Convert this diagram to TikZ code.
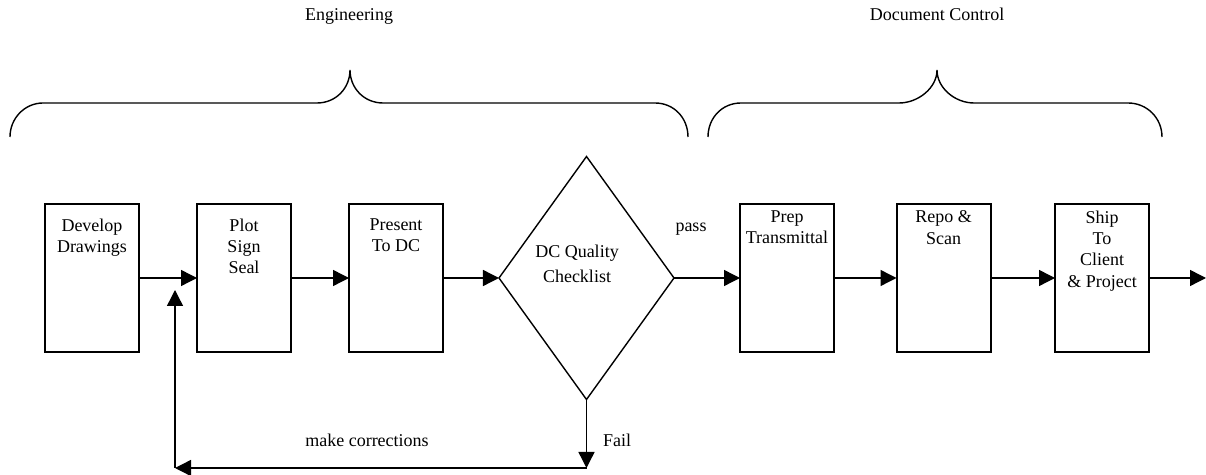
\documentclass[tikz,border=0pt]{standalone}
\usepackage{fontspec}
\setmainfont{Liberation Serif}
\usetikzlibrary{positioning,shapes.geometric,arrows.meta}
\begin{document}
\begin{tikzpicture}[x=0.5pt,y=-0.5pt,font=\fontsize{9}{10.65}\selectfont]
  \useasboundingbox (0,0) rectangle (1206,475);
  \begin{scope}[every node/.style={rectangle,draw,line width=1pt,minimum width=47pt,minimum height=74pt,inner sep=0pt,outer sep=0pt}]
    \node (dev) at (92,278) {};
    \node (plot) at (244,278) {};
    \node (pres) at (396,278) {};
    \node (prep) at (787,278) {};
    \node (repo) at (943.5,278) {};
    \node (ship) at (1102,278) {};
  \end{scope}
  \node[diamond,draw,line width=0.7pt,minimum width=87.5pt,minimum height=121.5pt,inner sep=0pt,outer sep=0pt] (qual) at (586.5,278) {};
  \begin{scope}[every node/.style={align=center,inner sep=0pt,outer sep=0pt}]
    \node[below=7.4pt of dev.north] (devtxt) {Develop\\Drawings};
    \node[below=7.4pt of plot.north] (plottxt) {Plot\\Sign\\Seal};
    \node[below=7.4pt of pres.north] (prestxt) {Present\\To DC};
    \node[below=3.4pt of prep.north] (preptxt) {Prep\\Transmittal};
    \node[below=3.4pt of repo.north] (repotxt) {Repo \&\\Scan};
    \node[below=3.4pt of ship.north] (shiptxt) {Ship\\To\\Client\\\& Project};
    \node[anchor=north,font=\fontsize{9}{12.5}\selectfont] (qualtxt) at ([shift={(-9.5,-33)}]qual.center) {DC Quality\\Checklist};
    \node[anchor=base] (pass) at (691,232) {pass};
    \node[anchor=base] (fix) at (367,447) {make corrections};
    \node[anchor=base west] (fail) at (603,447) {Fail};
    \node[anchor=base] (eng) at (349,21) {Engineering};
    \node[anchor=base] (dc) at (937,21) {Document Control};
  \end{scope}
  \coordinate (exit) at (1206,278);
  \coordinate (failc) at (qual.south |- 0,468);
  \coordinate (retc) at (175,468);
  \coordinate (rettip) at (175,290);
  \begin{scope}[every edge/.style={draw=black,line width=0.7pt,-{Triangle[length=8pt,width=8pt]}}]
    \path (dev) edge (plot);
    \path (plot) edge (pres);
    \path (pres) edge (qual);
    \path (qual) edge (prep);
    \path (prep) edge (repo);
    \path (repo) edge (ship);
    \path (ship) edge (exit);
    \path (qual) edge (failc);
    \path (failc) edge (retc);
    \path (retc) edge (rettip);
  \end{scope}
  \draw[line width=0.7pt] (10,137) .. controls (10,118) and (25,103) .. (43,103) -- (317,103)
    .. controls (336,103) and (350,88) .. (350,70) .. controls (350,88) and (364,103) .. (383,103)
    -- (655,103) .. controls (674,103) and (688,118) .. (688,137);
  \draw[line width=0.7pt] (708,137) .. controls (708,118) and (722,103) .. (741,103) -- (899,103)
    .. controls (918,103) and (937,88) .. (937,70) .. controls (937,88) and (955,103) .. (974,103)
    -- (1128,103) .. controls (1147,103) and (1162,118) .. (1162,137);
\end{tikzpicture}
\end{document}
